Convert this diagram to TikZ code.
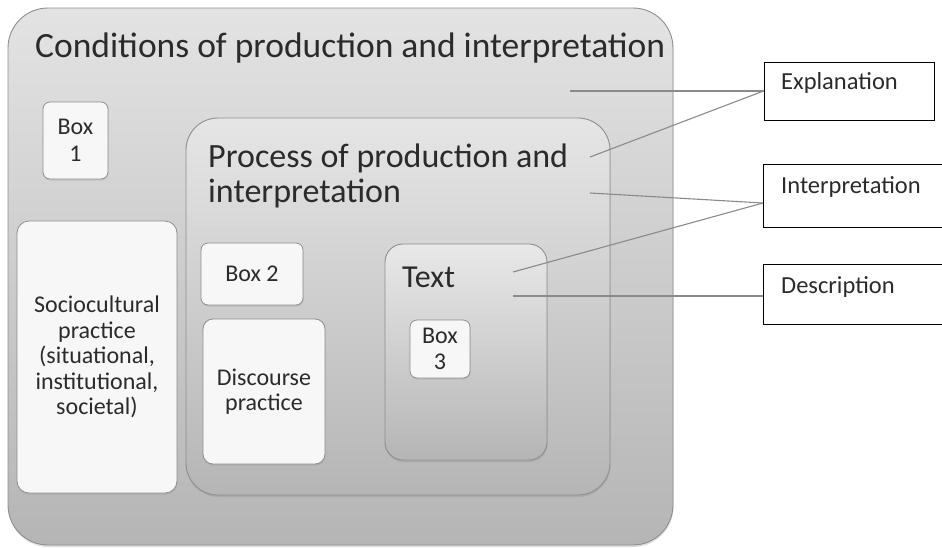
\documentclass[tikz,border=0pt]{standalone}
\usepackage{fontspec}
\setmainfont{Carlito}
\usetikzlibrary{shadows}
\definecolor{ink}{HTML}{2B2B2B}
\definecolor{edge}{HTML}{8E8E8E}
\definecolor{wire}{HTML}{8A8A8A}
\tikzset{
  panel/.style={draw=edge, line width=0.9pt, top color=#1, bottom color=black!29,
    drop shadow={opacity=0.25, shadow xshift=0.5pt, shadow yshift=-2pt}, inner sep=0pt},
  panel/.default={black!11},
  whitebox/.style={draw=edge, line width=0.8pt, fill=white!97!black, rounded corners=7pt,
    inner sep=0pt, align=center, text=ink, font=\fontsize{24}{25.5}\selectfont,
    drop shadow={opacity=0.2, shadow xshift=0.5pt, shadow yshift=-1.5pt}},
  levelbox/.style={draw=black, line width=0.9pt, fill=white, inner sep=0pt},
  levellabel/.style={anchor=west, text=ink, font=\fontsize{24.5}{26}\selectfont, inner sep=0pt},
  wirelink/.style={draw=wire, line width=1.1pt},
  heading/.style={anchor=west, text=ink, inner sep=0pt, align=left}
}
\begin{document}
\begin{tikzpicture}[x=1pt, y=-1pt]
\useasboundingbox (0,0) rectangle (942,547);
\clip (0,0) rectangle (942,547);

% nested panels
\node[panel, rounded corners=40pt, minimum width=665pt, minimum height=537pt] (outer) at (340.5,276.5) {};
\node[heading, font=\fontsize{35.5}{36}\selectfont] (outertitle) at (35,48) {Conditions of production and interpretation};

\node[whitebox, minimum width=65pt, minimum height=77pt] (box1) at (75.5,140.5) {Box\\[1pt]1};
\node[whitebox, rounded corners=12pt, minimum width=160pt, minimum height=272pt] (socio) at (97,357)
  {Sociocultural\\practice\\(situational,\\institutional,\\societal)};

\node[panel={black!10}, rounded corners=32pt, minimum width=424pt, minimum height=377pt] (process) at (398,306.5) {};
\node[heading, font=\fontsize{34}{35}\selectfont] (processtitle) at (208,176) {Process of production and\\interpretation};

\node[whitebox, minimum width=102pt, minimum height=62pt] (box2) at (252,274) {Box 2};
\node[whitebox, rounded corners=10pt, minimum width=122pt, minimum height=145pt] (discourse) at (264,391.5) {Discourse\\practice};

\node[panel={black!9}, rounded corners=18pt, minimum width=162pt, minimum height=216pt] (textbox) at (466,352) {};
\node[heading, font=\fontsize{32}{33}\selectfont] (texttitle) at (402,277) {Text};
\node[whitebox, minimum width=60pt, minimum height=58pt] (box3) at (440,349) {Box\\[1pt]3};

% levels of analysis
\node[levelbox, minimum width=170pt, minimum height=58pt] (explanation) at (849,91) {};
\node[levellabel] at (781,83) {Explanation};
\node[levelbox, minimum width=187pt, minimum height=63pt] (interp) at (856.5,195.5) {};
\node[levellabel] at (781,187) {Interpretation};
\node[levelbox, minimum width=187pt, minimum height=60pt] (description) at (856.5,294) {};
\node[levellabel] at (781,287) {Description};

% connector ends inside the panels
\coordinate (fromOuter) at (570,91);
\coordinate (fromProcA) at (590,157);
\coordinate (fromProcB) at (590,193);
\coordinate (fromTextA) at (513,272);
\coordinate (fromTextB) at (513,296);
\coordinate (interpIn) at (763,203);

\draw[wirelink] (fromOuter) -- (explanation.west);
\draw[wirelink] (fromProcA) -- (explanation.west);
\draw[wirelink] (fromProcB) -- (interpIn);
\draw[wirelink] (fromTextA) -- (interpIn);
\draw[wirelink] (fromTextB) -- (fromTextB -| description.west);
\end{tikzpicture}
\end{document}
